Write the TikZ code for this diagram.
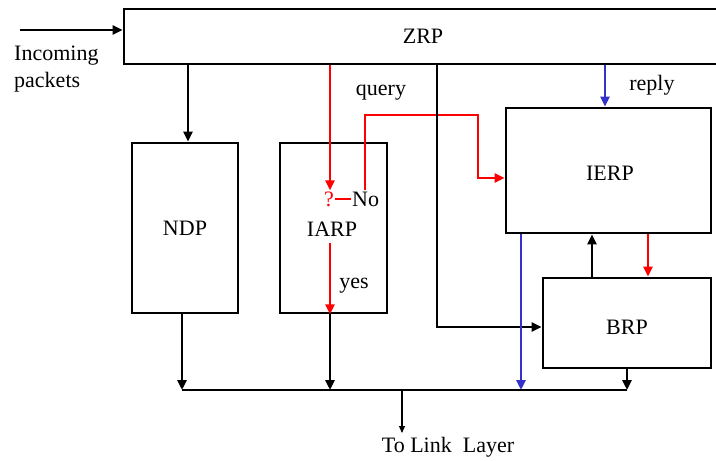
\documentclass[tikz,border=0pt]{standalone}
\usepackage{fontspec}
\setmainfont{Liberation Serif}
\usetikzlibrary{arrows.meta}
\definecolor{myred}{RGB}{255,0,0}
\definecolor{myblue}{RGB}{51,51,204}
\begin{document}
\begin{tikzpicture}[x=1pt,y=-1pt,
  every node/.style={font=\fontsize{22}{27}\selectfont},
  box/.style={draw, line width=2.8pt, inner sep=0pt},
  arr/.style={line width=2.5pt, -{Triangle[length=10pt,width=9pt]}},
  ln/.style={line width=2.5pt},
  txt/.style={inner sep=1pt}]
\useasboundingbox (0,0) rectangle (716,461);
% boxes
\node[box, minimum width=598pt, minimum height=55pt] (zrp) at (423,36.5) {ZRP};
\node[box, minimum width=106pt, minimum height=170pt] (ndp) at (185,228) {NDP};
\node[box, minimum width=107pt, minimum height=170pt] (iarp) at (333.5,228) {};
\node[txt] at (332,229) {IARP};
\node[box, minimum width=205pt, minimum height=125pt] (ierp) at (608.5,170.5) {};
\node[txt] at (610,173) {IERP};
\node[box, minimum width=168pt, minimum height=90pt] (brp) at (627,323) {};
\node[txt] at (627,327) {BRP};
% labels
\node[txt, align=left, anchor=west] (inc) at (13,69) {Incoming\\packets};
\node[txt] (query) at (381,93) {query};
\node[txt] (reply) at (652,85) {reply};
\node[txt] (yes) at (354,286) {yes};
\node[txt, text=myred] (q) at (329,199) {?};
\node[txt, anchor=west] (no) at (351,199) {No};
\node[txt] (link) at (448,447) {To Link\ \ Layer};
% bus coordinates
\coordinate (bndp) at (182,390);
\coordinate (biarp) at (330,390);
\coordinate (bblue) at (521,390);
\coordinate (bbrp) at (627,390);
\coordinate (bout) at (402,390);
\coordinate (out) at (402,433);
\coordinate (inS) at (20,30);
% incoming
\draw[arr] (inS) -- (inS -| zrp.west);
% ZRP to NDP
\draw[arr] (188,0 |- zrp.south) -- (188,0 |- ndp.north);
% ZRP to IARP (red)
\draw[arr, myred] (330,0 |- zrp.south) -- (330,0 |- q.north);
\draw[ln, myred] (q.east) -- (no.west);
% query path
\draw[arr, myred] (365,0 |- no.north) -- (365,115) -- (478,115) -- (478,178) -- (478,178 -| ierp.west);
% IARP yes
\draw[arr, myred] (330,243) -- (330,0 |- iarp.south);
% reply
\draw[arr, myblue] (605,0 |- zrp.south) -- (605,0 |- ierp.north);
% ZRP to BRP
\draw[arr] (437,0 |- zrp.south) -- (437,327) -- (437,327 -| brp.west);
% IERP <-> BRP
\draw[arr] (592,0 |- brp.north) -- (592,0 |- ierp.south);
\draw[arr, myred] (648,0 |- ierp.south) -- (648,0 |- brp.north);
% to bus
\draw[arr] (ndp.south -| bndp) -- (bndp);
\draw[arr] (iarp.south -| biarp) -- (biarp);
\draw[arr, myblue] (ierp.south -| bblue) -- (bblue);
\draw[arr] (brp.south -| bbrp) -- (bbrp);
\draw[ln] (bndp) -- (bbrp);
\draw[line width=1.2pt, -{Triangle[length=7pt,width=6pt]}] (bout) -- (out);
\end{tikzpicture}
\end{document}
